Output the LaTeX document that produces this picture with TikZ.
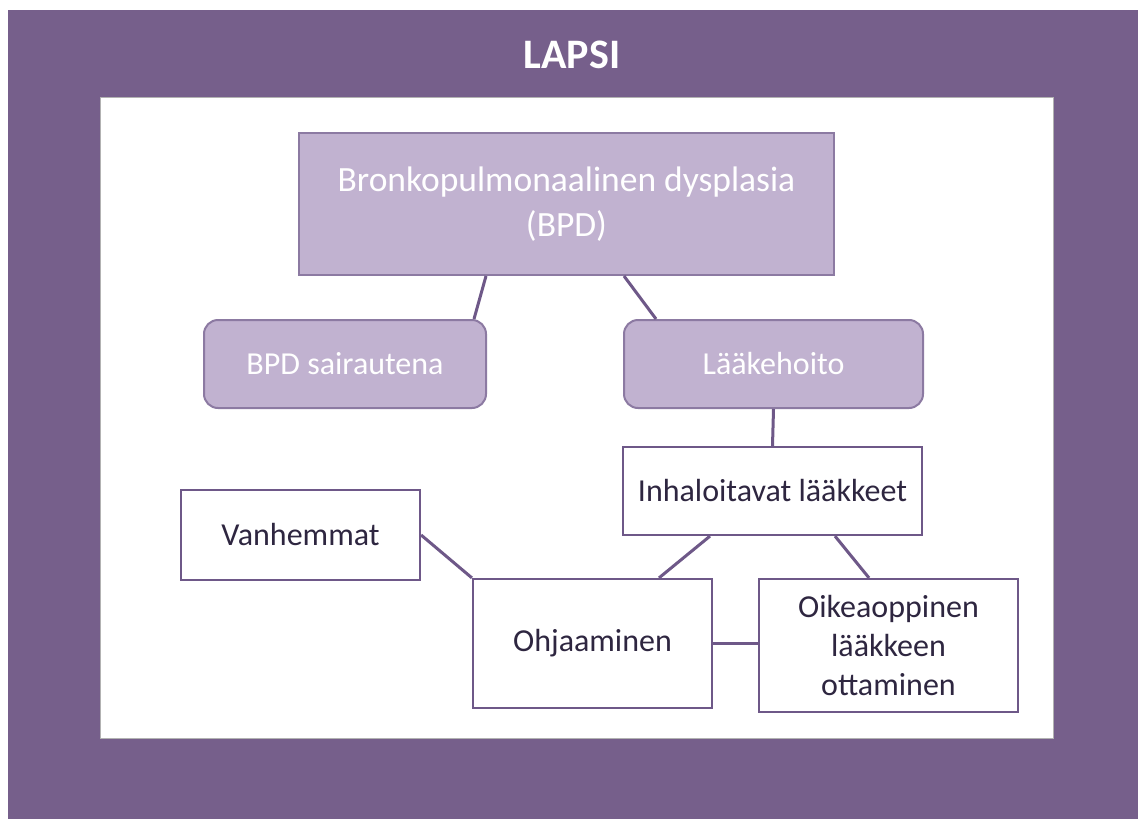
\documentclass[tikz,border=0pt]{standalone}
\usepackage{fontspec}
\setmainfont{Carlito}
\usetikzlibrary{calc}
\definecolor{frame}{HTML}{765F8B}
\definecolor{lila}{HTML}{C1B2D0}
\definecolor{lilaedge}{HTML}{8C7AA2}
\definecolor{wire}{HTML}{6E5888}
\definecolor{ink}{HTML}{2E2640}
\tikzset{
  topicbox/.style={draw=lilaedge, line width=2pt, fill=lila, rounded corners=14pt, text=white, font=\fontsize{32}{38}\selectfont},
  notebox/.style={draw=wire, line width=2.2pt, fill=white, text=ink, align=center, font=\fontsize{32}{39}\selectfont},
  wire/.style={draw=wire, line width=3pt}
}
\begin{document}
\begin{tikzpicture}[x=1pt, y=-1pt]
\useasboundingbox (0,0) rectangle (1138,819);
\fill[frame] (8,10) rectangle (1138,819);
\fill[white] (100,97) rectangle (1053,738);
\draw[gray!60, line width=0.8pt] (100,97) rectangle (1053,738);
\node[text=white, font=\bfseries\fontsize{42}{46}\selectfont] (lapsi) at (572,55) {LAPSI};

\node[draw=lilaedge, line width=2pt, fill=lila, text=white, align=center, minimum width=535pt, minimum height=142pt, font=\fontsize{35.5}{45}\selectfont] (bpd) at (566.5,204) {Bronkopulmonaalinen dysplasia\\(BPD)};
\node[topicbox, minimum width=282pt, minimum height=88pt] (sairaus) at (345,364) {BPD sairautena};
\node[topicbox, minimum width=299pt, minimum height=88pt] (laake) at (773.5,364) {Lääkehoito};
\node[notebox, minimum width=299pt, minimum height=88pt] (inhal) at (772.5,491) {Inhaloitavat lääkkeet};
\node[notebox, minimum width=239pt, minimum height=90pt] (vanh) at (300.5,535) {Vanhemmat};
\node[notebox, minimum width=239pt, minimum height=129pt] (ohjaus) at (592.5,643.5) {Ohjaaminen};
\node[notebox, minimum width=259pt, minimum height=133pt] (oikea) at (888.5,645.5) {Oikeaoppinen\\lääkkeen\\ottaminen};

\draw[wire] ([xshift=-80.5pt]bpd.south) -- ([xshift=-13pt]sairaus.north east);
\draw[wire] ([xshift=57.5pt]bpd.south) -- ([xshift=33pt]laake.north west);
\draw[wire] (laake.south) -- (inhal.north);
\draw[wire] ([xshift=-62.5pt]inhal.south) -- ([xshift=66.5pt]ohjaus.north);
\draw[wire] ([xshift=62.5pt]inhal.south) -- ([xshift=-19.5pt]oikea.north);
\draw[wire] (ohjaus.east) -- (ohjaus.east -| oikea.west);
\draw[wire] (vanh.east) -- (ohjaus.north west);
\end{tikzpicture}
\end{document}
